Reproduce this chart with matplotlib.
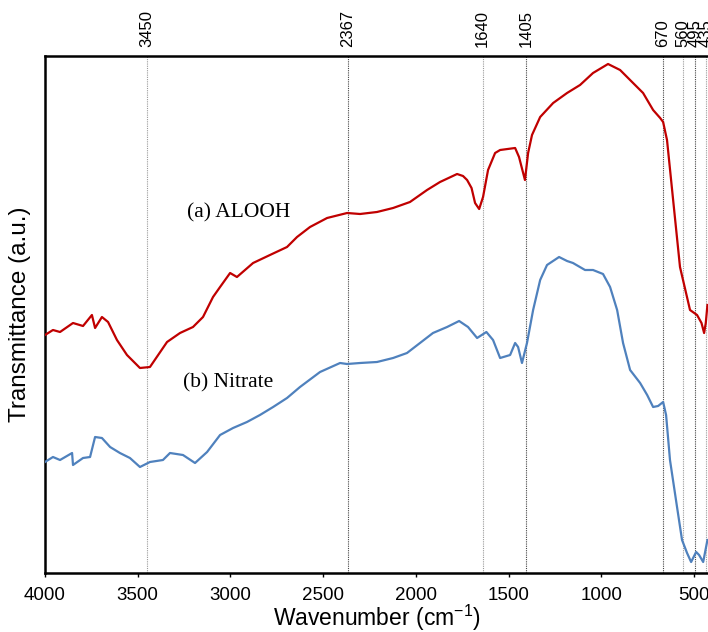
import matplotlib
matplotlib.use("Agg")
import matplotlib.pyplot as plt
import matplotlib.transforms as mtransforms

plt.rcParams['font.family'] = ['Liberation Sans', 'DejaVu Sans']

# AlOOH spectrum (wavenumber, transmittance a.u.)
alooh_wn = [4000, 3957, 3919, 3849, 3795, 3747, 3730, 3693, 3660, 3612, 3558, 3488, 3434,
            3342, 3272, 3202, 3148, 3094, 3056, 3002, 2965, 2878, 2787, 2695, 2641, 2571,
            2479, 2371, 2301, 2210, 2123, 2032, 1940, 1870, 1778, 1746, 1724, 1700, 1681,
            1659, 1638, 1611, 1573, 1546, 1465, 1444, 1412, 1395, 1374, 1330, 1260, 1185,
            1115, 1045, 964, 899, 829, 775, 721, 683, 667, 646, 613, 576, 522, 484, 460,
            446, 437, 428]
alooh_t = [238, 243, 241, 250, 247, 258, 245, 256, 251, 233, 218, 205, 206,
           231, 240, 246, 256, 276, 286, 300, 296, 310, 318, 326, 336, 346,
           355, 360, 359, 361, 365, 371, 383, 391, 399, 397, 393, 385, 370,
           364, 376, 403, 420, 423, 425, 416, 393, 420, 438, 456, 470, 480,
           488, 500, 509, 503, 490, 480, 463, 455, 451, 433, 373, 306, 263, 258, 250,
           240, 250, 268]

# Nitrate spectrum
nitrate_wn = [4000, 3957, 3919, 3854, 3849, 3795, 3757, 3730, 3693, 3649, 3596, 3542, 3488,
              3434, 3364, 3326, 3256, 3191, 3126, 3056, 2986, 2911, 2841, 2770, 2695, 2625,
              2517, 2409, 2371, 2301, 2210, 2123, 2048, 1978, 1908, 1832, 1767, 1719, 1670,
              1620, 1584, 1546, 1492, 1465, 1449, 1428, 1401, 1368, 1330, 1293, 1228, 1185,
              1153, 1088, 1045, 991, 953, 915, 883, 845, 791, 753, 721, 694, 667, 651, 630,
              592, 565, 538, 516, 489, 473, 451, 428]
nitrate_t = [111, 116, 113, 120, 108, 115, 116, 136, 135, 126, 120, 115, 106,
             111, 113, 120, 118, 110, 121, 138, 145, 151, 158, 166, 175, 186,
             201, 210, 209, 210, 211, 215, 220, 230, 240, 246, 252, 246, 235,
             241, 233, 215, 218, 230, 226, 210, 230, 263, 293, 308, 316, 312,
             310, 303, 303, 299, 286, 263, 230, 203, 190, 178, 166, 167, 171, 158, 113,
             66, 33, 20, 11, 21, 18, 11, 33]

peak_positions = [3450, 2367, 1640, 1405, 670, 560, 495, 435]
peak_colors = ['#9a9a9a', '#444444', '#9a9a9a', '#444444', '#444444', '#9a9a9a', '#444444', '#9a9a9a']
xtick_values = [4000, 3500, 3000, 2500, 2000, 1500, 1000, 500]

fig = plt.figure(figsize=(7.08, 6.32), dpi=100)
ax = fig.add_axes([45/708, 1 - 573/632, 1 - 45/708, (573 - 56)/632])

for p, c in zip(peak_positions, peak_colors):
    ax.axvline(p, color=c, lw=0.8, ls=(0, (1, 1)), zorder=1)

ax.plot(alooh_wn, alooh_t, color='#C00000', lw=1.6, zorder=3)
ax.plot(nitrate_wn, nitrate_t, color='#4F81BD', lw=1.6, zorder=3)

ax.set_xlim(4000, 425)
ax.set_ylim(0, 517)
ax.set_xticks(xtick_values)
ax.set_xticklabels([str(v) for v in xtick_values], fontsize=13.5)
ax.set_yticks([])
ax.tick_params(axis='x', direction='out', length=3, width=1, pad=7)

for side in ['top', 'left', 'bottom']:
    ax.spines[side].set_linewidth(1.8)
ax.spines['right'].set_visible(False)

trans = mtransforms.blended_transform_factory(ax.transData, ax.transAxes)
for p in peak_positions:
    ax.text(p, 1.017, str(p), rotation=90, ha='center', va='bottom',
            fontsize=12, transform=trans, clip_on=False)

ax.text(3234, 360, '(a) ALOOH', family=['Liberation Serif', 'DejaVu Serif'],
        fontsize=15.5, va='center', ha='left')
ax.text(3256, 190, '(b) Nitrate', family=['Liberation Serif', 'DejaVu Serif'],
        fontsize=15.5, va='center', ha='left')

ax.set_xlabel('Wavenumber (cm$^{\\mathregular{-1}}$)', fontsize=16.5, labelpad=-1)
ax.set_ylabel('Transmittance (a.u.)', fontsize=17.5, labelpad=10)

fig.savefig('out.png', dpi=100)
